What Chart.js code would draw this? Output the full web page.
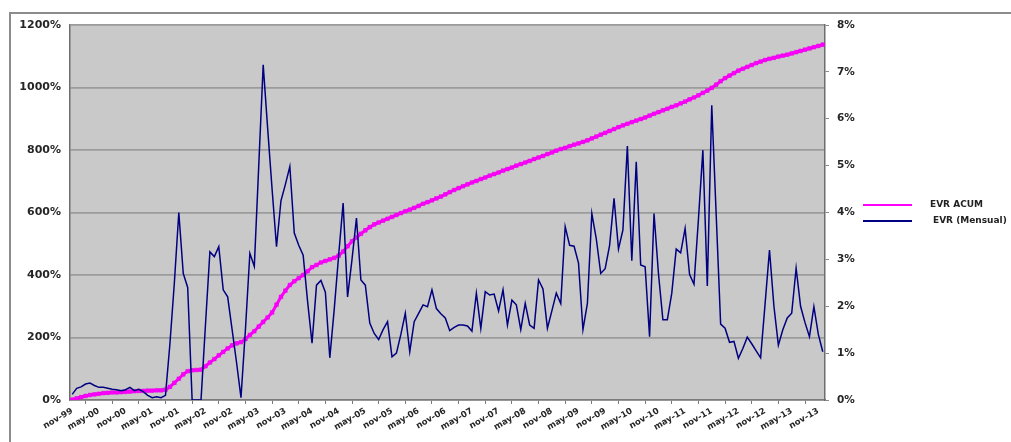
<!DOCTYPE html>
<html>
<head>
<meta charset="utf-8">
<title>EVR ACUM / EVR (Mensual)</title>
<script src="https://cdn.jsdelivr.net/npm/chart.js@4.4.1/dist/chart.umd.min.js"></script>
<style>
  html, body { margin: 0; padding: 0; background: #ffffff; }
  #wrap { position: relative; width: 1011px; height: 442px; }
</style>
</head>
<body>
<div id="wrap"><canvas id="chart"></canvas></div>
<script>
// Monthly series, November 1999 through December 2013
const MONTH_NAMES = ['ene', 'feb', 'mar', 'abr', 'may', 'jun', 'jul', 'ago', 'sep', 'oct', 'nov', 'dic'];
const START_YEAR = 1999;
const START_MONTH = 10; // nov
const MONTH_COUNT = 170;

const categories = [];
for (let k = 0; k < MONTH_COUNT; k++) {
  const m = (START_MONTH + k) % 12;
  const y = START_YEAR + Math.floor((START_MONTH + k) / 12);
  categories.push(MONTH_NAMES[m] + '-' + String(y % 100).padStart(2, '0'));
}

// Accumulated return, % (left axis)
const evrAcum = [
  1, 5, 9, 13, 16, 18, 20, 22, 23, 24,
  24, 25, 26, 27, 28, 29, 29, 30, 30, 31,
  31, 33, 42, 55, 68, 82, 92, 95, 96, 97,
  108, 120, 131, 143, 154, 165, 175, 181, 185, 195,
  208, 220, 235, 250, 264, 280, 305, 330, 350, 368,
  380, 390, 400, 412, 425, 432, 440, 445, 450, 455,
  462, 475, 492, 508, 520, 532, 543, 553, 562, 568,
  574, 580, 586, 592, 598, 604, 609, 615, 621, 628,
  633, 639, 645, 651, 658, 665, 672, 678, 684, 690,
  696, 701, 707, 712, 718, 723, 728, 734, 739, 744,
  750, 755, 760, 765, 771, 776, 781, 787, 792, 798,
  803, 807, 812, 817, 821, 826, 831, 837, 843, 849,
  855, 861, 867, 873, 879, 884, 889, 894, 899, 904,
  910, 916, 921, 927, 932, 938, 943, 949, 955, 962,
  968, 975, 983, 990, 999, 1009, 1020, 1030, 1038, 1046,
  1054, 1060, 1066, 1072, 1078, 1083, 1088, 1092, 1095, 1099,
  1102, 1105, 1109, 1113, 1117, 1121, 1125, 1129, 1133, 1137
];

// Monthly return, % (right axis)
const evrMensual = [
  0.12, 0.25, 0.28, 0.34, 0.36, 0.31, 0.27, 0.27, 0.25, 0.23,
  0.22, 0.20, 0.22, 0.27, 0.20, 0.23, 0.18, 0.10, 0.05, 0.07,
  0.05, 0.10, 1.20, 2.50, 4.00, 2.70, 2.40, 0.00, 0.00, 0.00,
  1.60, 3.16, 3.06, 3.27, 2.35, 2.20, 1.50, 0.80, 0.05, 1.50,
  3.13, 2.85, 5.00, 7.15, 5.80, 4.50, 3.27, 4.25, 4.60, 4.98,
  3.56, 3.30, 3.09, 2.10, 1.21, 2.45, 2.55, 2.30, 0.90, 1.94,
  3.10, 4.20, 2.20, 3.00, 3.88, 2.56, 2.45, 1.64, 1.42, 1.29,
  1.50, 1.67, 0.92, 1.00, 1.40, 1.85, 1.03, 1.67, 1.85, 2.03,
  1.99, 2.35, 1.95, 1.84, 1.75, 1.48, 1.55, 1.60, 1.60, 1.58,
  1.47, 2.28, 1.53, 2.31, 2.24, 2.26, 1.90, 2.35, 1.60, 2.13,
  2.03, 1.50, 2.06, 1.60, 1.53, 2.56, 2.37, 1.53, 1.90, 2.28,
  2.06, 3.70, 3.30, 3.28, 2.92, 1.50, 2.06, 3.98, 3.44, 2.70,
  2.80, 3.30, 4.30, 3.22, 3.63, 5.42, 2.97, 5.08, 2.88, 2.84,
  1.35, 3.98, 2.70, 1.71, 1.71, 2.28, 3.22, 3.14, 3.66, 2.68,
  2.47, 3.85, 5.33, 2.43, 6.29, 3.95, 1.62, 1.53, 1.23, 1.25,
  0.89, 1.10, 1.34, 1.20, 1.05, 0.90, 2.04, 3.20, 2.00, 1.17,
  1.50, 1.75, 1.85, 2.81, 2.00, 1.65, 1.35, 1.99, 1.40, 1.03
];

// Axis ticks
const leftTicks = [0, 200, 400, 600, 800, 1000, 1200];
const rightTicks = [0, 1, 2, 3, 4, 5, 6, 7, 8];
const LABEL_EVERY = 6;

const seriesNames = ['EVR ACUM', 'EVR (Mensual)'];

// Outer frame and grey plot background
const frameAndBackground = {
  id: 'frameAndBackground',
  beforeDraw(chart) {
    const { ctx, chartArea: a } = chart;
    ctx.save();
    ctx.fillStyle = '#ffffff';
    ctx.fillRect(0, 0, chart.width, chart.height);
    ctx.strokeStyle = '#8c8c8c';
    ctx.lineWidth = 2;
    ctx.strokeRect(10, 13, chart.width + 20, chart.height + 20);
    ctx.fillStyle = '#c9c9c9';
    ctx.fillRect(a.left, a.top, a.right - a.left, a.bottom - a.top);
    ctx.restore();
  }
};

// Line legend at the right of the plot
const sideLegend = {
  id: 'sideLegend',
  afterDraw(chart) {
    const { ctx } = chart;
    const rows = [205, 221];
    ctx.save();
    chart.data.datasets.forEach((ds, i) => {
      const y = rows[i];
      ctx.strokeStyle = ds.borderColor;
      ctx.lineWidth = 2;
      ctx.beginPath();
      ctx.moveTo(863, y);
      ctx.lineTo(912, y);
      ctx.stroke();
      ctx.fillStyle = '#222222';
      ctx.font = 'bold 9px "DejaVu Sans", sans-serif';
      ctx.textBaseline = 'middle';
      ctx.textAlign = 'left';
      ctx.fillText(ds.label, i === 0 ? 930 : 933, y);
    });
    ctx.restore();
  }
};

const ctx = document.getElementById('chart').getContext('2d');
new Chart(ctx, {
  type: 'line',
  data: {
    labels: categories,
    datasets: [
      {
        label: seriesNames[0],
        data: evrAcum,
        yAxisID: 'y',
        borderColor: '#ff00ff',
        backgroundColor: '#ff00ff',
        borderWidth: 3,
        pointStyle: 'rect',
        pointRadius: 2.6,
        pointBorderWidth: 0.5,
        pointBorderColor: '#e000e0',
        pointBackgroundColor: '#ff00ff',
        tension: 0,
        order: 2
      },
      {
        label: seriesNames[1],
        data: evrMensual,
        yAxisID: 'y1',
        borderColor: '#000080',
        backgroundColor: '#000080',
        borderWidth: 1.5,
        pointRadius: 0,
        tension: 0,
        order: 1
      }
    ]
  },
  options: {
    responsive: true,
    maintainAspectRatio: false,
    animation: false,
    events: [],
    layout: { padding: { top: 25, left: 0, right: 0, bottom: 0 } },
    plugins: {
      legend: { display: false },
      tooltip: { enabled: false }
    },
    scales: {
      x: {
        type: 'category',
        offset: true,
        afterFit(scale) { scale.height = 42; },
        border: { display: true, color: '#7a7a7a', width: 1.5 },
        grid: {
          offset: true,
          drawOnChartArea: false,
          drawTicks: true,
          tickLength: 4,
          color: '#7a7a7a',
          lineWidth: 1
        },
        ticks: {
          autoSkip: false,
          minRotation: 30,
          maxRotation: 30,
          padding: 2,
          color: '#262626',
          font: { family: '"DejaVu Sans", sans-serif', size: 8.5, weight: 'bold' },
          callback(value, index) {
            return index % LABEL_EVERY === 0 ? this.getLabelForValue(value) : null;
          }
        }
      },
      y: {
        position: 'left',
        min: leftTicks[0],
        max: leftTicks[leftTicks.length - 1],
        afterFit(scale) { scale.width = 70; },
        afterBuildTicks(scale) { scale.ticks = leftTicks.map(v => ({ value: v })); },
        border: { display: true, color: '#6e6e6e', width: 1.5 },
        grid: {
          color: '#9b9b9b',
          lineWidth: 1.8,
          drawTicks: false
        },
        ticks: {
          padding: 9,
          color: '#262626',
          font: { family: '"DejaVu Sans", sans-serif', size: 11, weight: 'bold' },
          callback: v => v + '%'
        }
      },
      y1: {
        position: 'right',
        min: rightTicks[0],
        max: rightTicks[rightTicks.length - 1],
        afterFit(scale) { scale.width = 1011 - 825; },
        afterBuildTicks(scale) { scale.ticks = rightTicks.map(v => ({ value: v })); },
        border: { display: true, color: '#6e6e6e', width: 1.5 },
        grid: {
          drawOnChartArea: false,
          drawTicks: true,
          tickLength: 4,
          color: '#8a8a8a'
        },
        ticks: {
          padding: 8,
          color: '#262626',
          font: { family: '"DejaVu Sans", sans-serif', size: 10.5, weight: 'bold' },
          callback: v => v + '%'
        }
      }
    }
  },
  plugins: [frameAndBackground, sideLegend]
});
</script>
</body>
</html>
